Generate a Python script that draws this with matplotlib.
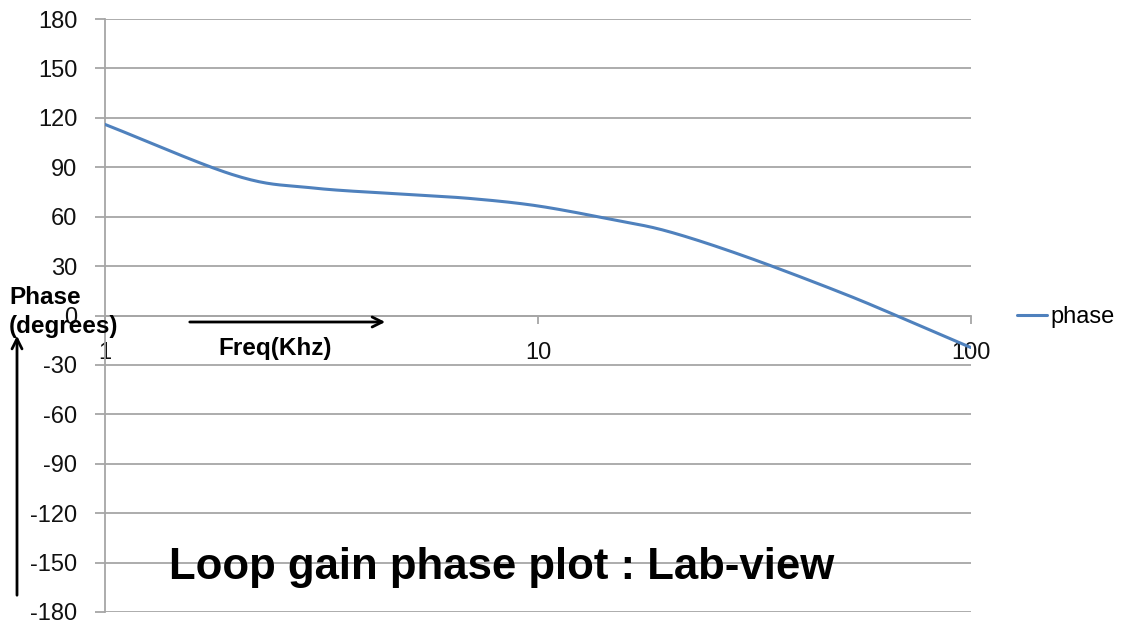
import numpy as np
import matplotlib
matplotlib.use("Agg")
import matplotlib.pyplot as plt

# ---- data ----
freq_khz = [1, 2, 3, 5, 7, 10, 15, 20, 30, 50, 70, 100]
phase_deg = [116, 85, 77.5, 73.5, 71, 66.5, 58, 51, 36, 14, -2, -19.5]
y_ticks = [180, 150, 120, 90, 60, 30, 0, -30, -60, -90, -120, -150, -180]
x_ticks = [1, 10, 100]
x_tick_labels = ["1", "10", "100"]
series_name = "phase"
title_text = "Loop gain phase plot : Lab-view"

W, H = 1123, 624
fig = plt.figure(figsize=(W / 100, H / 100), dpi=100)
ax = fig.add_axes([105 / W, 1 - 612 / H, (971 - 105) / W, (612 - 19) / H])


def catmull_rom(xs, ys, n=30):
    xs = np.asarray(xs, float); ys = np.asarray(ys, float)
    px = np.concatenate([[2 * xs[0] - xs[1]], xs, [2 * xs[-1] - xs[-2]]])
    py = np.concatenate([[2 * ys[0] - ys[1]], ys, [2 * ys[-1] - ys[-2]]])
    ox, oy = [], []
    for i in range(1, len(px) - 2):
        t = np.linspace(0, 1, n, endpoint=False)
        for arr, out in ((px, ox), (py, oy)):
            p0, p1, p2, p3 = arr[i - 1], arr[i], arr[i + 1], arr[i + 2]
            out.extend(0.5 * ((2 * p1) + (-p0 + p2) * t + (2 * p0 - 5 * p1 + 4 * p2 - p3) * t ** 2
                              + (-p0 + 3 * p1 - 3 * p2 + p3) * t ** 3))
    ox.append(xs[-1]); oy.append(ys[-1])
    return np.array(ox), np.array(oy)


lx, ly = catmull_rom(np.log10(freq_khz), phase_deg)
line, = ax.plot(10 ** lx, ly, color="#4f81bd", lw=2.2, solid_capstyle="round", label=series_name, zorder=3)

ax.set_xscale("log")
ax.set_xlim(1, 100)
ax.set_ylim(-180, 180)
ax.set_yticks(y_ticks)
ax.set_yticklabels([str(v) for v in y_ticks])
ax.set_xticks(x_ticks)
ax.set_xticklabels(x_tick_labels)
ax.xaxis.set_minor_locator(matplotlib.ticker.NullLocator())

grid_c = "#a6a6a6"
ax.grid(axis="y", color=grid_c, lw=1.3)
ax.set_axisbelow(True)
for s in ["top", "right"]:
    ax.spines[s].set_visible(False)
ax.spines["left"].set_color(grid_c)
ax.spines["left"].set_linewidth(1.3)
ax.spines["bottom"].set_position(("data", 0))
ax.spines["bottom"].set_color(grid_c)
ax.spines["bottom"].set_linewidth(1.3)

font = "Liberation Sans"
ax.tick_params(axis="y", length=7, width=1.3, color=grid_c, pad=13, labelsize=17, labelcolor="#111111")
ax.tick_params(axis="x", length=6, width=1.3, color=grid_c, pad=13, labelsize=17, labelcolor="#111111",
               direction="out")
for lab in ax.get_xticklabels() + ax.get_yticklabels():
    lab.set_fontfamily(font)

leg = fig.legend(handles=[line], labels=[series_name], loc="center left",
                 bbox_to_anchor=(1017 / W, 1 - 317 / H), frameon=False, borderpad=0, borderaxespad=0,
                 prop={"family": font, "size": 17}, handlelength=1.25, handletextpad=0.15)


def fx(px):
    return px / W


def fy(py):
    return 1 - py / H


fig.text(fx(9), fy(312), "Phase\n(degrees)", fontsize=17.5, fontweight="bold", family=font,
         ha="left", va="center", linespacing=1.3)
fig.text(fx(218), fy(348), "Freq(Khz)", fontsize=17.5, fontweight="bold", family=font,
         ha="left", va="center")
ax.annotate("", xy=(fx(17), fy(333)), xytext=(fx(17), fy(598)), xycoords="figure fraction",
            textcoords="figure fraction",
            arrowprops=dict(arrowstyle="->", lw=2, color="black", mutation_scale=18))
ax.annotate("", xy=(fx(388), fy(322)), xytext=(fx(187), fy(322)), xycoords="figure fraction",
            textcoords="figure fraction",
            arrowprops=dict(arrowstyle="->", lw=2, color="black", mutation_scale=18))
fig.text(fx(502), fy(567), title_text, fontsize=31.5, fontweight="bold", family=font,
         ha="center", va="center", color="black")

fig.savefig("out.png", dpi=100)
